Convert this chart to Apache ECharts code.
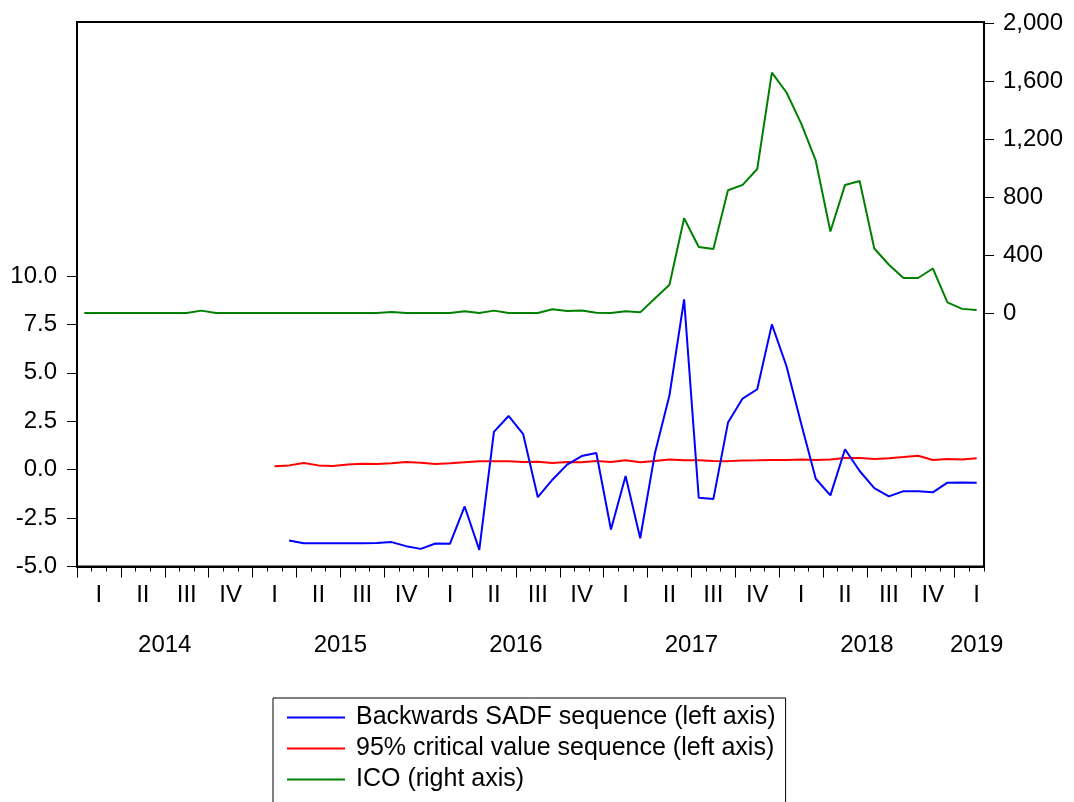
<!DOCTYPE html>
<html>
<head>
<meta charset="utf-8">
<title>Backwards SADF sequence and ICO</title>
<script src="https://cdn.jsdelivr.net/npm/echarts/dist/echarts.min.js"></script>
<style>
  html, body { margin: 0; padding: 0; background: #fff; }
  #chart { width: 1074px; height: 802px; }
</style>
</head>
<body>
<div id="chart"></div>
<script>
// Monthly sample: Jan 2014 .. Feb 2019 (62 months)
const years = ['2014', '2015', '2016', '2017', '2018', '2019'];
const quarters = ['I', 'II', 'III', 'IV'];
const monthCount = 62;

// Backwards SADF sequence (left axis), starts Mar 2015
const sadf = [
  null, null, null, null, null, null, null, null, null, null, null, null,
  null, null, -3.66, -3.80, -3.80, -3.80, -3.80, -3.80, -3.79, -3.74, -3.95, -4.09,
  -3.81, -3.82, -1.90, -4.14, 1.95, 2.77, 1.83, -1.42, -0.52, 0.26, 0.70, 0.86,
  -3.09, -0.33, -3.54, 0.83, 3.84, 8.79, -1.45, -1.52, 2.43, 3.67, 4.15, 7.50,
  5.34, 2.38, -0.47, -1.33, 1.05, -0.07, -0.95, -1.38, -1.11, -1.11, -1.17, -0.67,
  -0.66, -0.67
];

// 95% critical value sequence (left axis), starts Feb 2015
const critical = [
  null, null, null, null, null, null, null, null, null, null, null, null,
  null, 0.17, 0.22, 0.34, 0.22, 0.19, 0.26, 0.31, 0.29, 0.33, 0.39, 0.36,
  0.29, 0.33, 0.38, 0.43, 0.43, 0.43, 0.40, 0.41, 0.34, 0.40, 0.38, 0.45,
  0.40, 0.48, 0.38, 0.45, 0.53, 0.48, 0.48, 0.45, 0.44, 0.47, 0.48, 0.50,
  0.50, 0.52, 0.50, 0.52, 0.60, 0.60, 0.55, 0.59, 0.65, 0.72, 0.50, 0.55,
  0.53, 0.59
];

// ICO (right axis)
const ico = [
  0, 0, 0, 0, 0, 0, 0, 0, 16, 0, 0, 0,
  0, 0, 0, 0, 0, 0, 0, 0, 0, 7, 0, 0,
  0, 0, 11, 0, 16, 0, 0, 0, 25, 14, 17, 2,
  0, 11, 4, 100, 195, 654, 455, 441, 847, 884, 994, 1660,
  1522, 1309, 1051, 562, 884, 911, 445, 333, 241, 241, 307, 73,
  28, 21
];

const leftTicks = [-5, -2.5, 0, 2.5, 5, 7.5, 10];
const rightTicks = [0, 400, 800, 1200, 1600, 2000];

const seriesNames = [
  'Backwards SADF sequence (left axis)',
  '95% critical value sequence (left axis)',
  'ICO (right axis)'
];

// month categories
const months = [];
for (let i = 0; i < monthCount; i++) {
  const y = years[Math.floor(i / 12)];
  const m = (i % 12) + 1;
  months.push(y + '-' + (m < 10 ? '0' + m : m));
}

// half-month slots along the time axis, used to centre period labels
const slotCount = monthCount * 2 + 1;
const slots = [];
for (let j = 0; j < slotCount; j++) slots.push(String(j));
const lastFullSlot = 120;      // Jan 2019 starts here
const partialCentre = 123;     // centre of the partial 2019 quarter

function quarterAt(j) {
  if (j < lastFullSlot && j % 6 === 3) return quarters[Math.floor(j / 6) % 4];
  if (j === partialCentre) return quarters[0];
  return '';
}
function yearAt(j) {
  if (j < lastFullSlot && j % 24 === 12) return years[Math.floor(j / 24)];
  if (j === partialCentre) return years[years.length - 1];
  return '';
}

const FONT = '"Liberation Sans", Arial, Helvetica, sans-serif';
const axisText = { color: '#000', fontFamily: FONT, fontSize: 24 };

const chart = echarts.init(document.getElementById('chart'), null, { renderer: 'canvas' });

chart.setOption({
  animation: false,
  backgroundColor: '#fff',
  grid: {
    left: 77, right: 90, top: 22, bottom: 235.5,
    show: true, borderColor: '#000', borderWidth: 2, backgroundColor: 'transparent'
  },
  legend: {
    orient: 'vertical',
    left: 273, top: 698, height: 200,
    data: seriesNames,
    icon: 'rect',
    itemWidth: 58, itemHeight: 2,
    itemGap: 0,
    padding: [4, 10, 30, 14],
    borderColor: '#000', borderWidth: 1,
    backgroundColor: '#fff',
    textStyle: { color: '#000', fontFamily: FONT, fontSize: 25, lineHeight: 31, padding: [0, 0, 0, 6] },
    selectedMode: false
  },
  xAxis: [
    {
      // monthly data axis with a tick at each month boundary
      type: 'category', data: months, boundaryGap: true, position: 'bottom',
      axisLine: { show: true, onZero: false, lineStyle: { color: '#000', width: 2 } },
      axisTick: { show: true, interval: 0, length: 5, lineStyle: { color: '#000', width: 1 } },
      axisLabel: { show: false },
      splitLine: { show: false }
    },
    {
      // quarter labels and quarter ticks
      type: 'category', data: slots, boundaryGap: false, position: 'bottom',
      axisLine: { show: false, onZero: false },
      axisTick: { show: true, length: 11, interval: function (i) { return i % 6 === 0; },
                  lineStyle: { color: '#000', width: 1 } },
      axisLabel: Object.assign({
        interval: function (i) { return quarterAt(i) !== ''; },
        formatter: function (v, i) { return quarterAt(i); },
        margin: 29, verticalAlign: 'middle'
      }, axisText),
      splitLine: { show: false }
    },
    {
      // year labels
      type: 'category', data: slots, boundaryGap: false, position: 'bottom',
      axisLine: { show: false, onZero: false },
      axisTick: { show: false },
      axisLabel: Object.assign({
        interval: function (i) { return yearAt(i) !== ''; },
        formatter: function (v, i) { return yearAt(i); },
        margin: 79, verticalAlign: 'middle'
      }, axisText),
      splitLine: { show: false }
    }
  ],
  yAxis: [
    {
      type: 'value', position: 'left',
      min: -5, max: 23.11, interval: 2.5,
      axisLine: { show: true, onZero: false, lineStyle: { color: '#000', width: 2 } },
      axisTick: { show: true, length: 10, customValues: leftTicks, lineStyle: { color: '#000', width: 1 } },
      axisLabel: Object.assign({
        customValues: leftTicks,
        formatter: function (v) { return v.toFixed(1); },
        margin: 20, verticalAlign: 'middle', padding: [0, 0, 10, 0]
      }, axisText),
      splitLine: { show: false }
    },
    {
      type: 'value', position: 'right',
      min: -1751, max: 2009,
      axisLine: { show: true, onZero: false, lineStyle: { color: '#000', width: 2 } },
      axisTick: { show: true, length: 10, customValues: rightTicks, lineStyle: { color: '#000', width: 1 } },
      axisLabel: Object.assign({
        customValues: rightTicks,
        formatter: function (v) { return Number(v).toLocaleString('en-US'); },
        margin: 19, verticalAlign: 'middle', padding: [0, 0, 10, 0]
      }, axisText),
      splitLine: { show: false }
    }
  ],
  series: [
    {
      name: seriesNames[0], type: 'line', xAxisIndex: 0, yAxisIndex: 0,
      data: sadf, symbol: 'none', connectNulls: false,
      lineStyle: { color: '#0000ff', width: 2 }, itemStyle: { color: '#0000ff' }, z: 3
    },
    {
      name: seriesNames[1], type: 'line', xAxisIndex: 0, yAxisIndex: 0,
      data: critical, symbol: 'none', connectNulls: false,
      lineStyle: { color: '#ff0000', width: 2 }, itemStyle: { color: '#ff0000' }, z: 2
    },
    {
      name: seriesNames[2], type: 'line', xAxisIndex: 0, yAxisIndex: 1,
      data: ico, symbol: 'none',
      lineStyle: { color: '#008000', width: 2 }, itemStyle: { color: '#008000' }, z: 1
    }
  ]
});
</script>
</body>
</html>
